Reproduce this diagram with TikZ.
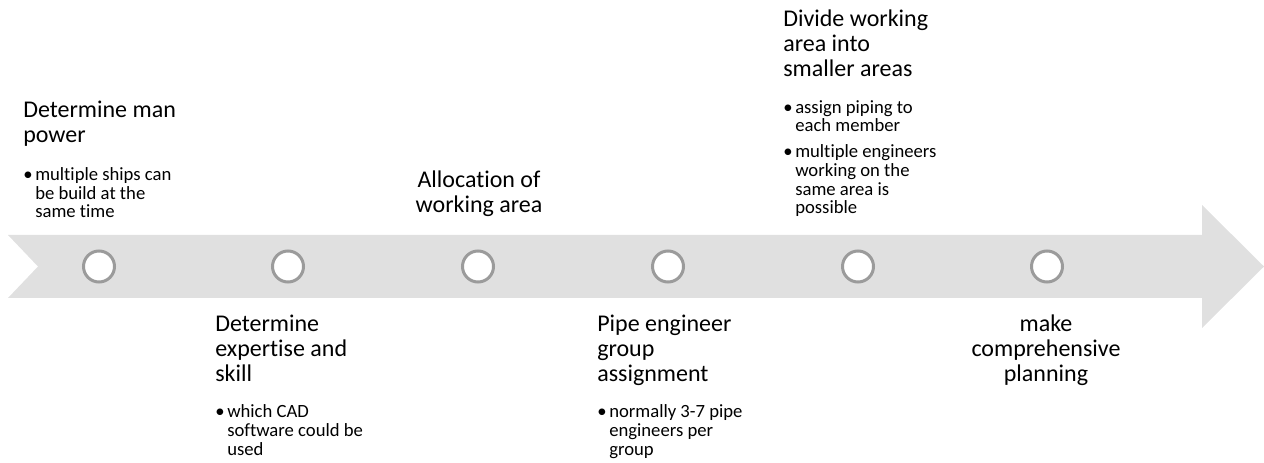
\documentclass[tikz,border=0pt]{standalone}
\usepackage{fontspec}
\setmainfont[Ligatures=NoCommon]{Carlito}

\definecolor{bandgray}{HTML}{E0E0E0}
\definecolor{dotgray}{HTML}{9B9B9B}

\newcommand{\bul}{\makebox[9pt][l]{\textbullet}}
\newcommand{\ind}{\hspace*{9pt}}

\begin{document}
\begin{tikzpicture}[x=0.75pt,y=-0.75pt,
    dot/.style={circle,draw=dotgray,fill=white,line width=2.25pt,minimum size=23.25pt,inner sep=0pt},
    title/.style={anchor=base west,align=left,inner sep=0pt,font=\fontsize{18}{18.75}\selectfont},
    ctitle/.style={anchor=base,align=center,inner sep=0pt,font=\fontsize{18}{18.75}\selectfont},
    bullets/.style={anchor=base west,align=left,inner sep=0pt,font=\fontsize{14}{14}\selectfont}]

    \useasboundingbox (0,0) rectangle (1264,463);

    % Timeline arrow
    \fill[bandgray] (8,235) -- (1202,235) -- (1202,205) -- (1264,266.5) -- (1202,328)
      -- (1202,298) -- (8,298) -- (38,266.5) -- cycle;

    % Define nodes (base = last line)
    \foreach \x [count=\i] in {99,288,478,668,858,1047}
      \node[dot] (c\i) at (\x,266.5) {};

    \node[title]   (man)      at (23,143)   {Determine man\\power};
    \node[bullets] (man-b)    at (23,218)   {\bul multiple ships can\\\ind be build at the\\\ind same time};
    \node[title]   (skill)    at (215,382)  {Determine\\expertise and\\skill};
    \node[bullets] (skill-b)  at (215,455)  {\bul which CAD\\\ind software could be\\\ind used};
    \node[ctitle]  (area)     at (479,213)  {Allocation of\\working area};
    \node[title]   (group)    at (597,382)  {Pipe engineer\\group\\assignment};
    \node[bullets] (group-b)  at (597,455)  {\bul normally 3-7 pipe\\\ind engineers per\\\ind group};
    \node[title]   (divide)   at (783,77)   {Divide working\\area into\\smaller areas};
    \node[bullets] (divide-b) at (783,214)  {\bul assign piping to\\\ind each member\\[5.5pt]
      \bul multiple engineers\\\ind working on the\\\ind same area is\\\ind possible};
    \node[ctitle]  (plan)     at (1046,382) {make\\comprehensive\\planning};

  \end{tikzpicture}
\end{document}
